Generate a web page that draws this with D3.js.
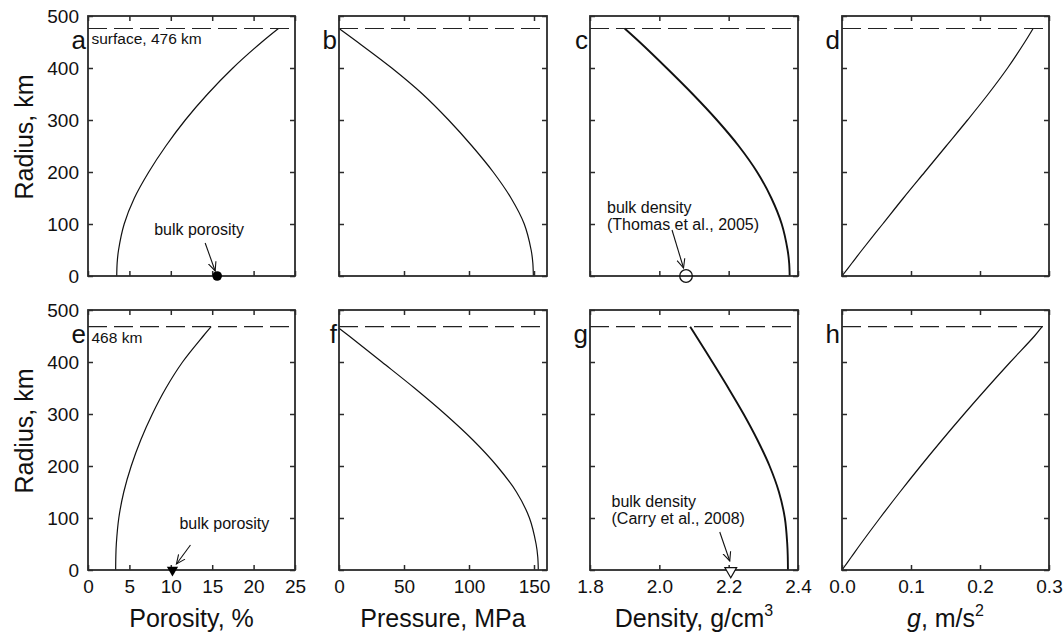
<!DOCTYPE html>
<html>
<head>
<meta charset="utf-8">
<script src="https://cdn.jsdelivr.net/npm/d3@7"></script>
<style>
  html, body { margin: 0; padding: 0; background: #fff; }
  svg { display: block; font-family: Arial, "Liberation Sans", sans-serif; }
</style>
</head>
<body>
<svg id="chart" width="1064" height="641"></svg>
<script>
// ---------------- data ----------------
const radiusTop = [0, 25, 50, 100, 150, 200, 250, 300, 350, 400, 450, 476];
const porosityTop = [3.47, 3.52, 3.69, 4.37, 5.6, 7.34, 9.4, 11.75, 14.45, 17.5, 21.0, 23.0];
const pressureTop = [149.5, 149.1, 147.8, 142.5, 132.3, 118.6, 102.3, 84.3, 64.2, 40.6, 14.2, 0];
const densityTop = [2.376, 2.3745, 2.370, 2.353, 2.323, 2.282, 2.229, 2.166, 2.096, 2.021, 1.943, 1.900];
const gravityTop = [0, 0.0145, 0.029, 0.059, 0.089, 0.120, 0.151, 0.182, 0.212, 0.240, 0.265, 0.277];

const radiusBottom = [0, 25, 50, 100, 150, 200, 250, 300, 350, 400, 450, 468];
const porosityBottom = [3.34, 3.36, 3.42, 3.72, 4.32, 5.22, 6.37, 7.77, 9.42, 11.42, 13.92, 14.87];
const densityBottom = [2.371, 2.3705, 2.369, 2.362, 2.345, 2.318, 2.283, 2.243, 2.199, 2.153, 2.106, 2.089];
const gravityBottom = [0, 0.0135, 0.027, 0.055, 0.084, 0.114, 0.145, 0.177, 0.210, 0.244, 0.279, 0.290];
const radiusPressureBottom = [0, 25, 50, 100, 150, 200, 250, 300, 350, 400, 450, 465];
const pressureBottom = [153.3, 152.9, 151.6, 146.5, 136.5, 121.5, 103.0, 81.5, 58.0, 33.0, 7.8, 0];

const surfaceRadius = [476, 468];
const surfaceLabels = ["surface, 476 km", "468 km"];
const bulkPorosity = [15.6, 10.2];
const bulkDensity = [2.077, 2.206];
const densityRefs = ["(Thomas et al., 2005)", "(Carry et al., 2008)"];
const panelLetters = [["a", "b", "c", "d"], ["e", "f", "g", "h"]];

const radiusTicks = [0, 100, 200, 300, 400, 500];
const porosityTicks = [0, 5, 10, 15, 20, 25];
const pressureTicks = [0, 50, 100, 150];
const densityTicks = [1.8, 2.0, 2.2, 2.4];
const gravityTicks = [0, 0.1, 0.2, 0.3];

// ---------------- layout ----------------
const svg = d3.select("#chart");
const colX = [[88, 295], [339, 547], [590, 798], [842, 1049]];
const rowY = [[16, 276], [310, 570]];
const ink = "#111";
const frameInk = "#2b2b2b";

const columns = [
  { domain: [0, 25], ticks: porosityTicks, fmt: d3.format("d") },
  { domain: [0, 160], ticks: pressureTicks, fmt: d3.format("d") },
  { domain: [1.8, 2.4], ticks: densityTicks, fmt: d3.format(".1f") },
  { domain: [0, 0.3], ticks: gravityTicks, fmt: d3.format(".1f") }
];

const series = [
  [
    { r: radiusTop, v: porosityTop, w: 1.2 },
    { r: radiusTop, v: pressureTop, w: 1.2 },
    { r: radiusTop, v: densityTop, w: 1.9 },
    { r: radiusTop, v: gravityTop, w: 1.2 }
  ],
  [
    { r: radiusBottom, v: porosityBottom, w: 1.2 },
    { r: radiusPressureBottom, v: pressureBottom, w: 1.2 },
    { r: radiusBottom, v: densityBottom, w: 1.9 },
    { r: radiusBottom, v: gravityBottom, w: 1.2 }
  ]
];

const defs = svg.append("defs");
defs.append("marker")
  .attr("id", "arrow")
  .attr("viewBox", "0 0 10 10")
  .attr("refX", 9).attr("refY", 5)
  .attr("markerWidth", 10).attr("markerHeight", 10)
  .attr("markerUnits", "userSpaceOnUse")
  .attr("orient", "auto")
  .append("path")
  .attr("d", "M0,1 L9,5 L0,9")
  .attr("fill", "none")
  .attr("stroke", ink)
  .attr("stroke-width", 1.1);

const scales = [];

rowY.forEach((ry, ri) => {
  const y = d3.scaleLinear().domain([0, 500]).range([ry[1], ry[0]]);
  scales[ri] = [];
  colX.forEach((cx, ci) => {
    const col = columns[ci];
    const x = d3.scaleLinear().domain(col.domain).range([cx[0], cx[1]]);
    scales[ri][ci] = { x, y };
    const g = svg.append("g");

    // curve
    const s = series[ri][ci];
    const pts = s.r.map((r, i) => [s.v[i], r]);
    g.append("path")
      .datum(pts)
      .attr("fill", "none")
      .attr("stroke", ink)
      .attr("stroke-width", s.w)
      .attr("d", d3.line().x(d => x(d[0])).y(d => y(d[1])).curve(d3.curveCatmullRom.alpha(0.5)));

    // surface dashed line
    g.append("line")
      .attr("x1", x(col.domain[0])).attr("x2", x(col.domain[1]))
      .attr("y1", y(surfaceRadius[ri])).attr("y2", y(surfaceRadius[ri]))
      .attr("stroke", "#222").attr("stroke-width", 1.1)
      .attr("stroke-dasharray", "19,7");

    // axes (inward ticks on all four sides)
    const bottomAxis = d3.axisBottom(x).tickValues(col.ticks).tickSize(-5).tickPadding(9.5)
      .tickFormat(ri === 1 ? col.fmt : () => "");
    const topAxis = d3.axisTop(x).tickValues(col.ticks).tickSize(-5).tickFormat(() => "");
    const leftAxis = d3.axisLeft(y).tickValues(radiusTicks).tickSize(-5).tickPadding(9)
      .tickFormat(ci === 0 ? d3.format("d") : () => "");
    const rightAxis = d3.axisRight(y).tickValues(radiusTicks).tickSize(-5).tickFormat(() => "");

    const axes = [
      g.append("g").attr("transform", `translate(0,${ry[1]})`).call(bottomAxis),
      g.append("g").attr("transform", `translate(0,${ry[0]})`).call(topAxis),
      g.append("g").attr("transform", `translate(${cx[0]},0)`).call(leftAxis),
      g.append("g").attr("transform", `translate(${cx[1]},0)`).call(rightAxis)
    ];
    axes.forEach(a => {
      a.select(".domain").remove();
      a.selectAll(".tick line").attr("stroke", frameInk).attr("stroke-width", 1.5);
      a.selectAll(".tick text").attr("fill", ink).style("font-size", "19px")
        .style("font-family", "Arial, 'Liberation Sans', sans-serif");
    });

    // frame
    g.append("rect")
      .attr("x", cx[0]).attr("y", ry[0])
      .attr("width", cx[1] - cx[0]).attr("height", ry[1] - ry[0])
      .attr("fill", "none").attr("stroke", frameInk).attr("stroke-width", 1.8);

    // panel letter
    svg.append("text")
      .attr("x", cx[0] - 2).attr("y", ry[0] + 33)
      .attr("text-anchor", "end")
      .style("font-size", "26px").attr("fill", ink)
      .text(panelLetters[ri][ci]);
  });

  // Radius label
  svg.append("text")
    .attr("transform", `translate(33,${(ry[0] + ry[1]) / 2 - 9}) rotate(-90)`)
    .attr("text-anchor", "middle")
    .style("font-size", "25px").attr("fill", ink)
    .text("Radius, km");

  // surface label
  svg.append("text")
    .attr("x", colX[0][0] + 3.5).attr("y", y(surfaceRadius[ri]) + 16)
    .style("font-size", "15.5px").attr("fill", ink)
    .text(surfaceLabels[ri]);
});

// ---------------- bulk markers and annotations ----------------
function arrow(x1, y1, x2, y2) {
  svg.append("line")
    .attr("x1", x1).attr("y1", y1).attr("x2", x2).attr("y2", y2)
    .attr("stroke", ink).attr("stroke-width", 1.1)
    .attr("marker-end", "url(#arrow)");
}
function note(x, y, lines) {
  const t = svg.append("text").attr("x", x).attr("y", y)
    .style("font-size", "16px").attr("fill", ink);
  lines.forEach((l, i) => {
    t.append("tspan").attr("x", x).attr("dy", i === 0 ? 0 : 17).text(l);
  });
}

// top row porosity: filled circle
{
  const { x, y } = scales[0][0];
  const px = x(bulkPorosity[0]), py = y(0);
  note(px - 63, py - 41, ["bulk porosity"]);
  arrow(px - 12, py - 33, px - 2, py - 5);
  svg.append("circle").attr("cx", px).attr("cy", py).attr("r", 4.8).attr("fill", "#000");
}
// bottom row porosity: filled down triangle
{
  const { x, y } = scales[1][0];
  const px = x(bulkPorosity[1]), py = y(0);
  note(px + 7, py - 41, ["bulk porosity"]);
  arrow(px + 18, py - 25, px + 4, py - 6);
  svg.append("path")
    .attr("d", d3.symbol().type(d3.symbolTriangle).size(55)())
    .attr("transform", `translate(${px},${py}) rotate(180)`)
    .attr("fill", "#000");
}
// top row density: open circle
{
  const { x, y } = scales[0][2];
  const px = x(bulkDensity[0]), py = y(0);
  note(607, py - 63, ["bulk density", densityRefs[0]]);
  arrow(px - 14, py - 46, px - 2.5, py - 8);
  svg.append("circle").attr("cx", px).attr("cy", py).attr("r", 6.3)
    .attr("fill", "none").attr("stroke", ink).attr("stroke-width", 1.3);
}
// bottom row density: open down triangle
{
  const { x, y } = scales[1][2];
  const px = x(bulkDensity[1]), py = y(0);
  note(611.5, py - 63, ["bulk density", densityRefs[1]]);
  arrow(px - 11, py - 38, px - 1, py - 9);
  svg.append("path")
    .attr("d", d3.symbol().type(d3.symbolTriangle).size(60)())
    .attr("transform", `translate(${px},${py + 1}) rotate(180)`)
    .attr("fill", "#fff").attr("stroke", ink).attr("stroke-width", 1.2);
}

// ---------------- x-axis titles ----------------
const titleY = 627;
function centerOf(ci) { return (colX[ci][0] + colX[ci][1]) / 2; }
svg.append("text").attr("x", centerOf(0)).attr("y", titleY).attr("text-anchor", "middle")
  .style("font-size", "25px").attr("fill", ink).text("Porosity, %");
svg.append("text").attr("x", centerOf(1)).attr("y", titleY).attr("text-anchor", "middle")
  .style("font-size", "25px").attr("fill", ink).text("Pressure, MPa");
{
  const t = svg.append("text").attr("x", centerOf(2)).attr("y", titleY).attr("text-anchor", "middle")
    .style("font-size", "25px").attr("fill", ink);
  t.append("tspan").text("Density, g/cm");
  t.append("tspan").attr("dy", -11).style("font-size", "16px").text("3");
}
{
  const t = svg.append("text").attr("x", centerOf(3)).attr("y", titleY).attr("text-anchor", "middle")
    .style("font-size", "25px").attr("fill", ink);
  t.append("tspan").style("font-style", "italic").text("g");
  t.append("tspan").text(", m/s");
  t.append("tspan").attr("dy", -11).style("font-size", "16px").text("2");
}
</script>
</body>
</html>
